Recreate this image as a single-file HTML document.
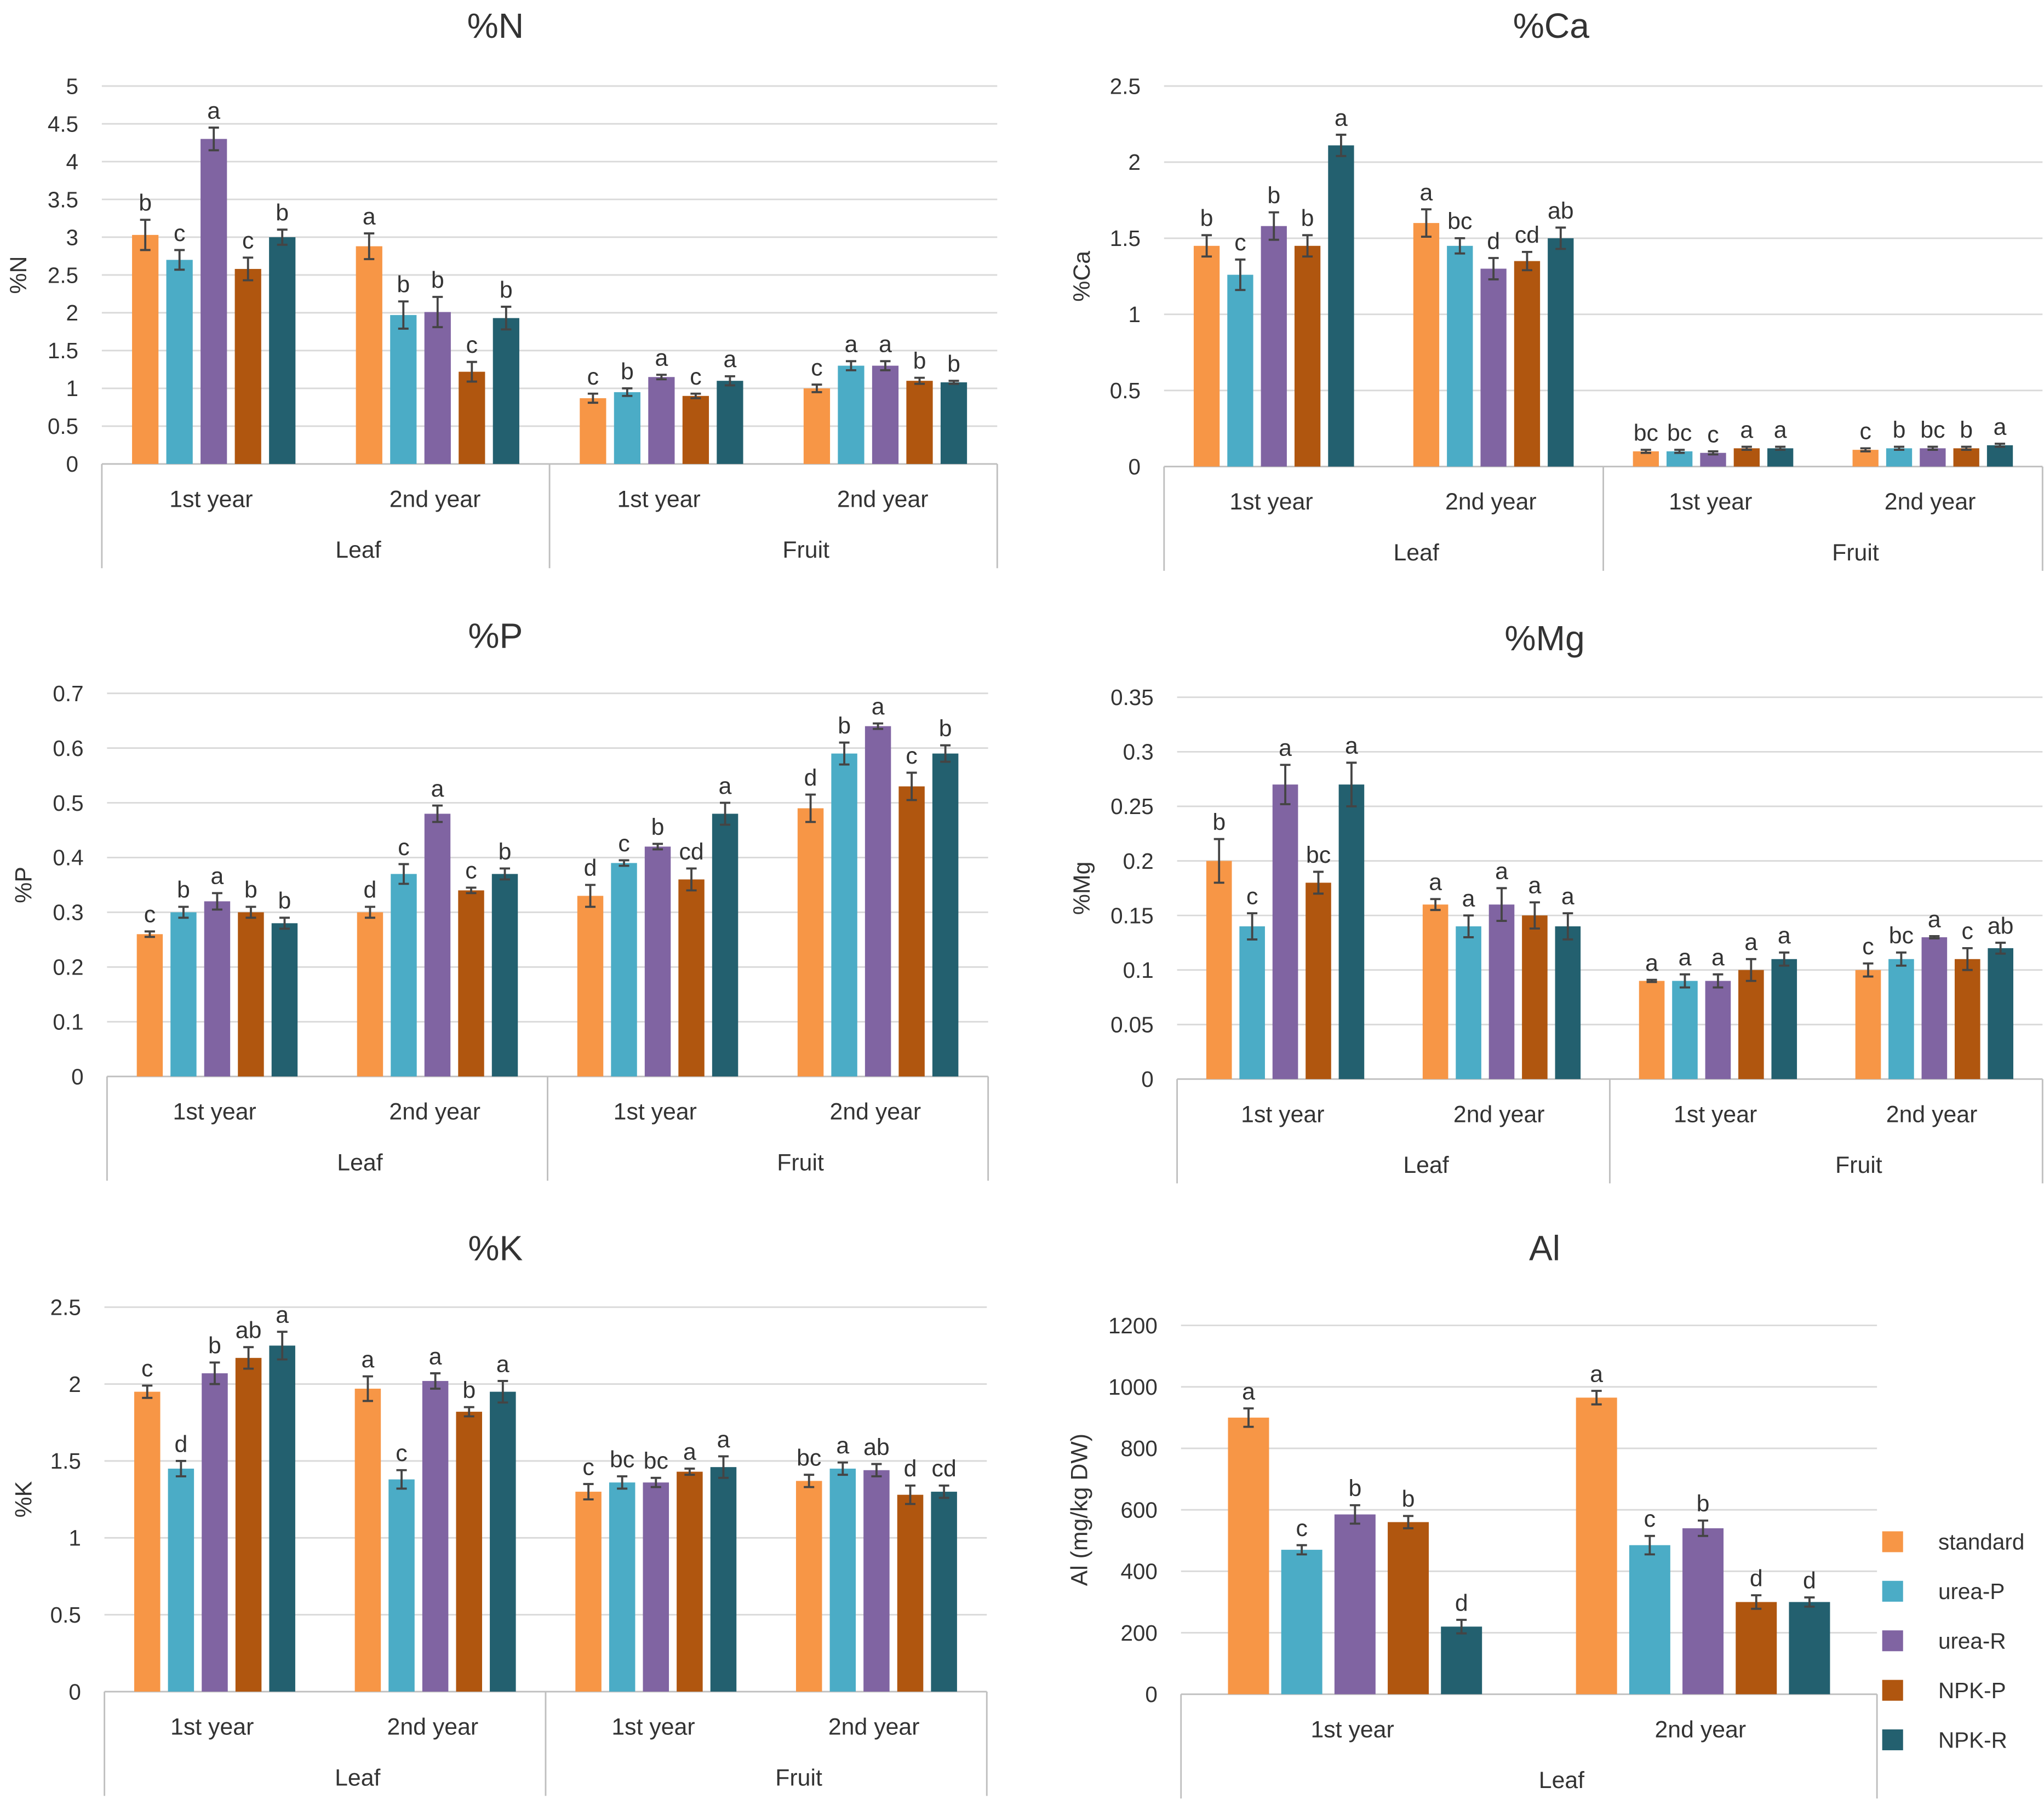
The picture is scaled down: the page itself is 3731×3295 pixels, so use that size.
<!DOCTYPE html>
<html><head><meta charset="utf-8"><style>
html,body{margin:0;padding:0;background:#fff}
svg{display:block}
text{font-family:"Liberation Sans",sans-serif;fill:#333}
</style></head><body>
<svg id="chart" width="3731" height="3295" viewBox="0 0 1568 1385" xmlns="http://www.w3.org/2000/svg"></svg>
<script>
const series = ["standard","urea-P","urea-R","NPK-P","NPK-R"];
const colors = ["#F79646","#4BACC6","#8064A2","#B0560F","#23606F"];
const groupLabels4 = ["1st year","2nd year","1st year","2nd year"];
const organLabels4 = ["Leaf","Fruit"];

const nVals = [[3.03,2.7,4.3,2.58,3.0],[2.88,1.97,2.01,1.22,1.93],[0.87,0.95,1.15,0.9,1.1],[1.0,1.3,1.3,1.1,1.08]];
const nErr = [[0.2,0.13,0.15,0.15,0.1],[0.17,0.18,0.2,0.13,0.15],[0.06,0.05,0.03,0.03,0.06],[0.05,0.06,0.06,0.04,0.02]];
const nLet = [["b","c","a","c","b"],["a","b","b","c","b"],["c","b","a","c","a"],["c","a","a","b","b"]];

const caVals = [[1.45,1.26,1.58,1.45,2.11],[1.6,1.45,1.3,1.35,1.5],[0.1,0.1,0.09,0.12,0.12],[0.11,0.12,0.12,0.12,0.14]];
const caErr = [[0.07,0.1,0.09,0.07,0.07],[0.09,0.05,0.07,0.06,0.07],[0.01,0.01,0.01,0.01,0.01],[0.01,0.01,0.01,0.01,0.01]];
const caLet = [["b","c","b","b","a"],["a","bc","d","cd","ab"],["bc","bc","c","a","a"],["c","b","bc","b","a"]];

const pVals = [[0.26,0.30,0.32,0.30,0.28],[0.30,0.37,0.48,0.34,0.37],[0.33,0.39,0.42,0.36,0.48],[0.49,0.59,0.64,0.53,0.59]];
const pErr = [[0.005,0.01,0.015,0.01,0.01],[0.01,0.018,0.015,0.005,0.01],[0.02,0.005,0.005,0.02,0.02],[0.025,0.02,0.005,0.025,0.015]];
const pLet = [["c","b","a","b","b"],["d","c","a","c","b"],["d","c","b","cd","a"],["d","b","a","c","b"]];

const mgVals = [[0.20,0.14,0.27,0.18,0.27],[0.16,0.14,0.16,0.15,0.14],[0.09,0.09,0.09,0.10,0.11],[0.10,0.11,0.13,0.11,0.12]];
const mgErr = [[0.02,0.012,0.018,0.01,0.02],[0.005,0.01,0.015,0.012,0.012],[0.001,0.006,0.006,0.01,0.006],[0.006,0.006,0.001,0.01,0.005]];
const mgLet = [["b","c","a","bc","a"],["a","a","a","a","a"],["a","a","a","a","a"],["c","bc","a","c","ab"]];

const kVals = [[1.95,1.45,2.07,2.17,2.25],[1.97,1.38,2.02,1.82,1.95],[1.30,1.36,1.36,1.43,1.46],[1.37,1.45,1.44,1.28,1.30]];
const kErr = [[0.04,0.05,0.07,0.07,0.09],[0.08,0.06,0.05,0.03,0.07],[0.05,0.04,0.03,0.02,0.07],[0.04,0.04,0.04,0.06,0.04]];
const kLet = [["c","d","b","ab","a"],["a","c","a","b","a"],["c","bc","bc","a","a"],["bc","a","ab","d","cd"]];

const alVals = [[900,470,585,560,220],[965,485,540,300,300]];
const alErr = [[30,15,30,20,22],[22,30,25,22,15]];
const alLet = [["a","c","b","b","d"],["a","c","b","d","d"]];

const svg = document.getElementById('chart');
const NS = "http://www.w3.org/2000/svg";
function el(tag, attrs, parent, txt){
  const e = document.createElementNS(NS, tag);
  for (const k in attrs) e.setAttribute(k, attrs[k]);
  if (txt !== undefined) e.textContent = txt;
  (parent||svg).appendChild(e);
  return e;
}

function panel(c){
  const g = el('g',{});
  
  
  const yS = v => c.y0 - (v / c.max) * (c.y0 - c.yTop);
  const nT = Math.round(c.max / c.step);
  for (let i = 0; i <= nT; i++){
    const v = +(i * c.step).toFixed(4);
    const y = yS(v);
    const gl = el('line',{x1:c.x0,x2:c.x1,y1:y,y2:y,stroke: i===0?'#bfbfbf':'#d9d9d9','stroke-width':1.2},g);
    
    
    const tl = el('text',{x:c.x0-18,y:y+6,'text-anchor':'end','font-size':17},g, String(v));
    
    
  }
  const t = el('text',{x:c.tx,y:c.ty,'text-anchor':'middle','font-size':27},g,c.title);
  
  
  const yt = el('text',{x:0,y:0,'text-anchor':'middle','font-size':18,transform:`translate(${c.ylx},${(c.yTop+c.y0)/2}) rotate(-90)`},g,c.ylabel);
  
  
  const nG = c.vals.length;
  const gw = (c.x1 - c.x0) / nG;
  const sp = gw * 0.153, bw = gw * 0.118;
  for (let gi = 0; gi < nG; gi++){
    const cx = c.x0 + gw * (gi + 0.5);
    const gl = el('text',{x:cx-2,y:c.y0+33,'text-anchor':'middle','font-size':18},g,c.groups[gi]);
    
    
    for (let si = 0; si < 5; si++){
      const bx = cx + (si - 2) * sp;
      const v = c.vals[gi][si], e = c.err[gi][si];
      const yv = yS(v);
      const b = el('rect',{x:bx-bw/2,y:yv,width:bw,height:c.y0-yv,fill:colors[si]},g);
      
      
      const yh = yS(v+e), yl = yS(v-e);
      const eb = el('path',{d:`M${bx},${yh}V${yl}M${bx-4},${yh}H${bx+4}M${bx-4},${yl}H${bx+4}`,stroke:'#444','stroke-width':1.6,fill:'none'},g);
      
      
      const lt = el('text',{x:bx,y:yh-7,'text-anchor':'middle','font-size':18},g,c.lets[gi][si]);
      
      
    }
  }
  const nO = c.organs.length;
  const ow = (c.x1 - c.x0) / nO;
  for (let oi = 0; oi <= nO; oi++){
    const x = c.x0 + ow * oi;
    const s = el('line',{x1:x,x2:x,y1:c.y0,y2:c.y0+80,stroke:'#bfbfbf','stroke-width':1.2},g);
    
    
  }
  for (let oi = 0; oi < nO; oi++){
    const o = el('text',{x:c.x0+ow*(oi+0.5)+25,y:c.y0+72,'text-anchor':'middle','font-size':18},g,c.organs[oi]);
    
    
  }
}

panel({name:'n',title:'%N',ylabel:'%N',x0:78,x1:765,yTop:66,y0:356,max:5,step:0.5,tx:380,ty:29,ylx:20,vals:nVals,err:nErr,lets:nLet,groups:groupLabels4,organs:organLabels4});
panel({name:'ca',title:'%Ca',ylabel:'%Ca',x0:893,x1:1567,yTop:66,y0:358,max:2.5,step:0.5,tx:1190,ty:29,ylx:836,vals:caVals,err:caErr,lets:caLet,groups:groupLabels4,organs:organLabels4});
panel({name:'p',title:'%P',ylabel:'%P',x0:82,x1:758,yTop:532,y0:826,max:0.7,step:0.1,tx:380,ty:497,ylx:24,vals:pVals,err:pErr,lets:pLet,groups:groupLabels4,organs:organLabels4});
panel({name:'mg',title:'%Mg',ylabel:'%Mg',x0:903,x1:1567,yTop:535,y0:828,max:0.35,step:0.05,tx:1185,ty:499,ylx:836,vals:mgVals,err:mgErr,lets:mgLet,groups:groupLabels4,organs:organLabels4});
panel({name:'k',title:'%K',ylabel:'%K',x0:80,x1:757,yTop:1003,y0:1298,max:2.5,step:0.5,tx:380,ty:967,ylx:24,vals:kVals,err:kErr,lets:kLet,groups:groupLabels4,organs:organLabels4});
panel({name:'al',title:'Al',ylabel:'Al (mg/kg DW)',x0:906,x1:1440,yTop:1017,y0:1300,max:1200,step:200,tx:1185,ty:967,ylx:834,vals:alVals,err:alErr,lets:alLet,groups:["1st year","2nd year"],organs:["Leaf"]});

const lg = el('g',{});


for (let i = 0; i < 5; i++){
  const y = 1183 + i * 38;
  const r = el('rect',{x:1444,y:y-8,width:16,height:16,fill:colors[i]},lg);
  
  
  const t = el('text',{x:1487,y:y+6,'font-size':17},lg,series[i]);
  
  
}
</script>
</body></html>
